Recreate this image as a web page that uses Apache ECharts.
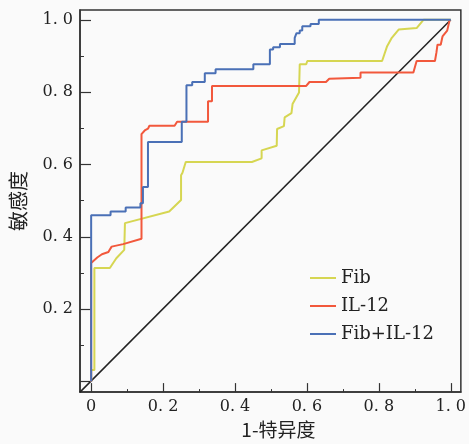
<!DOCTYPE html>
<html><head><meta charset="utf-8">
<script src="https://cdn.jsdelivr.net/npm/echarts@6/dist/echarts.min.js"></script>
<style>html,body{margin:0;padding:0;background:#fafafa}#c{width:469px;height:444px}</style>
</head><body><div id="c"></div>
<script>
// Axis ticks
const xMajor = [0, 0.2, 0.4, 0.6, 0.8, 1.0];
const xMinor = [0.1, 0.3, 0.5, 0.7, 0.9];
const yMajor = [0, 0.2, 0.4, 0.6, 0.8, 1.0];
const yLabelValues = [0.2, 0.4, 0.6, 0.8, 1.0];
const yMinor = [0.1, 0.3, 0.5, 0.7, 0.9];
const seriesNames = ['Fib', 'IL-12', 'Fib+IL-12'];

// Fib ROC curve (1-specificity, sensitivity)
const fibFpr = [0, 0, 0.009, 0.009, 0.052, 0.070, 0.092, 0.094, 0.217, 0.250, 0.250, 0.254, 0.263, 0.447, 0.474, 0.474, 0.516, 0.517, 0.536, 0.538, 0.557, 0.560, 0.578, 0.580, 0.598, 0.601, 0.809, 0.823, 0.836, 0.855, 0.859, 0.905, 0.924, 1.0];
const fibTpr = [0, 0.032, 0.032, 0.314, 0.314, 0.341, 0.364, 0.438, 0.470, 0.502, 0.570, 0.577, 0.607, 0.607, 0.617, 0.639, 0.652, 0.698, 0.706, 0.730, 0.742, 0.767, 0.799, 0.877, 0.877, 0.886, 0.886, 0.927, 0.950, 0.973, 0.977, 0.977, 1.0, 1.0];

// IL-12 ROC curve
const il12Fpr = [0, 0, 0.017, 0.030, 0.048, 0.052, 0.057, 0.089, 0.140, 0.140, 0.144, 0.149, 0.158, 0.162, 0.232, 0.239, 0.325, 0.325, 0.336, 0.336, 0.598, 0.607, 0.653, 0.662, 0.749, 0.749, 0.896, 0.905, 0.956, 0.960, 0.963, 0.972, 0.977, 0.990, 0.997];
const il12Tpr = [0, 0.328, 0.343, 0.352, 0.358, 0.365, 0.373, 0.380, 0.395, 0.684, 0.689, 0.694, 0.699, 0.707, 0.707, 0.718, 0.718, 0.775, 0.775, 0.817, 0.817, 0.828, 0.828, 0.837, 0.840, 0.854, 0.854, 0.886, 0.886, 0.909, 0.931, 0.931, 0.954, 0.970, 1.0];

// Fib+IL-12 ROC curve
const comboFpr = [0, 0, 0.054, 0.054, 0.096, 0.096, 0.137, 0.137, 0.144, 0.144, 0.158, 0.158, 0.252, 0.252, 0.265, 0.265, 0.281, 0.281, 0.316, 0.316, 0.346, 0.346, 0.451, 0.451, 0.497, 0.497, 0.506, 0.506, 0.525, 0.525, 0.566, 0.566, 0.571, 0.571, 0.580, 0.580, 0.587, 0.587, 0.610, 0.610, 0.633, 0.633, 1.0];
const comboTpr = [0, 0.460, 0.460, 0.470, 0.470, 0.481, 0.481, 0.493, 0.493, 0.538, 0.538, 0.662, 0.662, 0.718, 0.718, 0.819, 0.819, 0.828, 0.828, 0.852, 0.852, 0.863, 0.863, 0.877, 0.877, 0.918, 0.918, 0.924, 0.924, 0.933, 0.933, 0.950, 0.950, 0.963, 0.963, 0.970, 0.970, 0.982, 0.982, 0.988, 0.988, 1.0, 1.0];

// Reference diagonal
const diagX = [-0.031, 1.0];
const diagY = [-0.029, 1.0];

const zip = (a, b) => a.map((v, i) => [v, b[i]]);
const numFont = 'DejaVu Serif';
const fmt = v => v === 0 ? '0' : v.toFixed(1).replace('.', '. ');
const chart = echarts.init(document.getElementById('c'), null, {renderer: 'canvas'});
const xMin = -0.031, xMax = 1.028, yMin = -0.029, yMax = 1.027;
chart.setOption({
  backgroundColor: '#fafafa',
  animation: false,
  grid: {left: 78, right: 6, top: 10, bottom: 49, show: true, borderColor: '#333', borderWidth: 1.5, backgroundColor: 'transparent'},
  legend: {
    data: seriesNames, orient: 'vertical', left: 305, top: 264,
    icon: 'rect', itemWidth: 26, itemHeight: 2, itemGap: 10,
    textStyle: {fontFamily: numFont, fontSize: 18, color: '#222'}
  },
  xAxis: [{
    type: 'value', min: xMin, max: xMax, position: 'bottom',
    name: '1-特异度', nameLocation: 'middle', nameGap: 27,
    nameTextStyle: {fontFamily: 'Noto Sans CJK SC', fontSize: 19, color: '#222', padding: [0, 0, 0, 16]},
    axisLine: {show: true, onZero: false, lineStyle: {color: '#333', width: 1.5}},
    axisTick: {show: true, inside: true, length: 9, customValues: xMajor, lineStyle: {color: '#333', width: 1.2}},
    axisLabel: {customValues: xMajor, formatter: fmt, fontFamily: numFont, fontSize: 16, color: '#222', margin: 7},
    splitLine: {show: false}
  }, {
    type: 'value', min: xMin, max: xMax, position: 'bottom', offset: 0,
    axisLine: {show: false, onZero: false},
    axisTick: {show: true, inside: true, length: 3, customValues: xMinor, lineStyle: {color: '#333', width: 1}},
    axisLabel: {show: false}, splitLine: {show: false}
  }],
  yAxis: [{
    type: 'value', min: yMin, max: yMax, position: 'left',
    name: '敏感度', nameLocation: 'middle', nameGap: 52, nameRotate: 90,
    nameTextStyle: {fontFamily: 'Noto Sans CJK SC', fontSize: 20, color: '#222'},
    axisLine: {show: true, onZero: false, lineStyle: {color: '#333', width: 1.5}},
    axisTick: {show: true, inside: true, length: 11, customValues: yMajor, lineStyle: {color: '#333', width: 1.2}},
    axisLabel: {customValues: yLabelValues, formatter: fmt, fontFamily: numFont, fontSize: 16, color: '#222', margin: 7},
    splitLine: {show: false}
  }, {
    type: 'value', min: yMin, max: yMax, position: 'left', offset: 0,
    axisLine: {show: false, onZero: false},
    axisTick: {show: true, inside: true, length: 4, customValues: yMinor, lineStyle: {color: '#333', width: 1}},
    axisLabel: {show: false}, splitLine: {show: false}
  }],
  series: [
    {name: 'diagonal', type: 'line', data: zip(diagX, diagY), symbol: 'none', lineStyle: {color: '#222', width: 1.5}, z: 1, clip: false},
    {name: 'Fib', type: 'line', data: zip(fibFpr, fibTpr), symbol: 'none', lineStyle: {color: '#d6d652', width: 2}, itemStyle: {color: '#d6d652'}, z: 2},
    {name: 'IL-12', type: 'line', data: zip(il12Fpr, il12Tpr), symbol: 'none', lineStyle: {color: '#f2583c', width: 2}, itemStyle: {color: '#f2583c'}, z: 3},
    {name: 'Fib+IL-12', type: 'line', data: zip(comboFpr, comboTpr), symbol: 'none', lineStyle: {color: '#4a70b6', width: 2}, itemStyle: {color: '#4a70b6'}, z: 4}
  ]
});
</script></body></html>
